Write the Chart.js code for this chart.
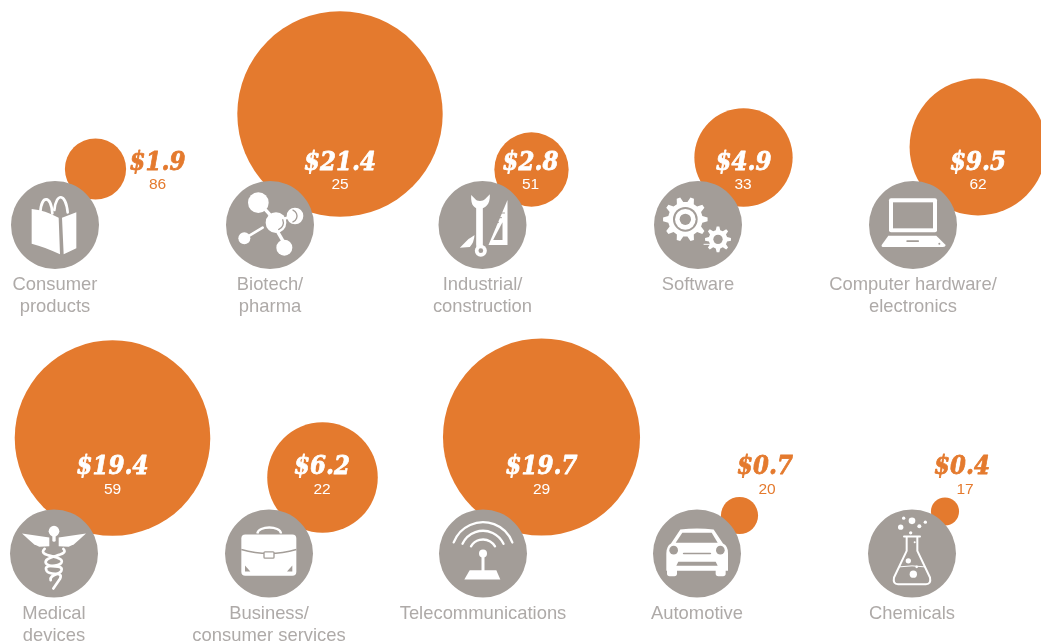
<!DOCTYPE html>
<html><head><meta charset="utf-8">
<style>html,body{margin:0;padding:0;background:#fff}#w{width:1041px;height:644px;position:relative}canvas{display:block}</style>
<script src="https://cdn.jsdelivr.net/npm/chart.js@4"></script>
</head><body><div id="w"><canvas id="c" width="1041" height="644"></canvas></div>
<script>
// ---- data ----
const categories = [["Consumer","products"],["Biotech/","pharma"],["Industrial/","construction"],["Software"],["Computer hardware/","electronics"],["Medical","devices"],["Business/","consumer services"],["Telecommunications"],["Automotive"],["Chemicals"]];
const amounts = [1.9,21.4,2.8,4.9,9.5,19.4,6.2,19.7,0.7,0.4];
const deals = [86,25,51,33,62,59,22,29,20,17];
// ---- layout, in axis units ----
const iconX = [55,270,482.5,698,913,54,269,483,697,912];
const iconY = [225,225,225,225,225,553.5,553.5,553.5,553.5,553.5];
const bubbleX = [95.5,340,531.5,743.5,978,112.5,322.5,541.5,739.5,945];
const bubbleY = [169,114,169.5,157.5,147,438,477.5,437,515.5,511.5];
const amountX = [157.5,340,530.5,743.5,978,112.5,322,541.5,765,962];
const countX  = [157.5,340,530.5,743,978,112.5,322,541.5,767,965];
const amountY = [163,163,163,163,163,467,467,467,467,467];
const countY  = [185,185,185,185,185,490,490,490,490,490];
const outside = [true,false,false,false,false,false,false,false,true,true];
const ORANGE='#e47a2e', GREY='#a39d98', WHITE='#ffffff', LABEL='#aeaaa8';
const RADIUS_PER_ROOT = 22.2, ICON_R = 44;

function roundRect(c,x,y,w,h,r){c.beginPath();c.roundRect(x,y,w,h,r);}
function poly(c,p,col){c.fillStyle=col||WHITE;c.beginPath();p.forEach((q,i)=>i?c.lineTo(q[0],q[1]):c.moveTo(q[0],q[1]));c.closePath();c.fill();}
function disc(c,x,y,r,col){c.fillStyle=col||WHITE;c.beginPath();c.arc(x,y,r,0,Math.PI*2);c.fill();}
function line(c,p,w,col){c.strokeStyle=col||WHITE;c.lineWidth=w;c.lineCap='round';c.lineJoin='round';c.beginPath();p.forEach((q,i)=>i?c.lineTo(q[0],q[1]):c.moveTo(q[0],q[1]));c.stroke();}
function gear(c,x,y,ro,ri,n,col){c.fillStyle=col||WHITE;c.beginPath();const s=Math.PI*2/n;for(let i=0;i<n;i++){const a=i*s-s*0.25;[[ri,a-s*0.06],[ro,a+s*0.12],[ro,a+s*0.38],[ri,a+s*0.56]].forEach(q=>c.lineTo(x+q[0]*Math.cos(q[1]),y+q[0]*Math.sin(q[1])));}c.closePath();c.fill();}

// icon outlines in 1/3 pixel units around the icon centre
const iconPainters = [
 function book(c){
  c.strokeStyle=WHITE;c.lineWidth=8;c.lineCap='round';
  c.beginPath();c.moveTo(-44,-40);c.bezierCurveTo(-40,-90,-12,-90,-8,-35);c.stroke();
  c.beginPath();c.moveTo(-2,-45);c.bezierCurveTo(4,-98,32,-96,38,-38);c.stroke();
  c.fillStyle=WHITE;c.beginPath();c.moveTo(-70,-48);c.quadraticCurveTo(-30,-44,11,-22);c.lineTo(15,88);c.quadraticCurveTo(-30,66,-70,56);c.closePath();c.fill();
  poly(c,[[21,-22],[64,-38],[64,70],[42,80],[26,88]]);
 },
 function molecule(c){
  line(c,[[-62,32],[-22,8]],8);line(c,[[24,22],[40,50]],10);line(c,[[-14,-46],[8,-22]],10);line(c,[[40,-18],[58,-24]],8);
  disc(c,-35,-67,31);disc(c,18,-7,31);disc(c,75,-27,25);disc(c,43,68,24);disc(c,-77,40,18);
  c.strokeStyle=GREY;c.lineWidth=4;c.beginPath();c.arc(18,-7,22,-0.4,1.2);c.stroke();
  c.beginPath();c.arc(62,-27,19,-1.2,1.2);c.stroke();
 },
 function tools(c){
  poly(c,[[75,-75],[75,60],[18,60]]);
  poly(c,[[60,-8],[60,45],[32,45]],GREY);
  [0,1,2,3].forEach(i=>line(c,[[66-i*9,-36+i*14],[50-i*9,-36+i*14]],3,GREY));
  line(c,[[-9,-55],[-9,70]],26,GREY);
  line(c,[[-9,-55],[-9,60]],20);
  c.fillStyle=WHITE;c.beginPath();c.moveTo(-34,-90);c.bezierCurveTo(-36,-55,-22,-50,-9,-48);c.bezierCurveTo(6,-50,24,-58,22,-92);c.lineTo(8,-78);c.bezierCurveTo(2,-70,-18,-70,-22,-78);c.closePath();c.fill();
  disc(c,-5,77,18);disc(c,-5,77,7,GREY);
  c.fillStyle=WHITE;c.beginPath();c.moveTo(-68,68);c.lineTo(-42,42);c.quadraticCurveTo(-25,32,-24,30);c.quadraticCurveTo(-25,52,-38,66);c.closePath();c.fill();
 },
 function gears(c){
  gear(c,-38,-17,67,52,10);disc(c,-38,-17,37,GREY);disc(c,-38,-17,31);disc(c,-38,-17,17,GREY);
  gear(c,60,43,39,28,8);disc(c,60,43,14,GREY);
  line(c,[[18,58],[36,58]],3);
 },
 function laptop(c){
  roundRect(c,-72,-80,144,102,6);c.fillStyle=WHITE;c.fill();
  c.fillStyle=GREY;c.fillRect(-60,-68,120,78);
  c.fillStyle=WHITE;c.beginPath();c.moveTo(-74,32);c.lineTo(70,32);c.lineTo(98,60);c.quadraticCurveTo(98,66,90,66);c.lineTo(-88,66);c.quadraticCurveTo(-96,66,-94,60);c.closePath();c.fill();
  roundRect(c,-20,46,38,5,2);c.fillStyle=GREY;c.fill();disc(c,79,56,3,GREY);
 },
 function caduceus(c){
  poly(c,[[-96,-60],[-14,-48],[-14,-22],[-44,-20],[-60,-28],[-72,-38]]);
  poly(c,[[96,-60],[14,-48],[14,-22],[44,-20],[60,-28],[72,-38]]);
  disc(c,0,-67,16);
  line(c,[[0,-60],[0,-40]],10);
  c.strokeStyle=WHITE;c.lineWidth=8;c.lineCap='round';c.beginPath();c.moveTo(-28,-14);c.bezierCurveTo(-55,10,36,6,22,28);c.bezierCurveTo(8,46,-34,28,-22,52);c.bezierCurveTo(-12,70,30,50,18,76);c.lineTo(-2,105);c.stroke();
  c.beginPath();c.moveTo(28,-14);c.bezierCurveTo(50,8,-36,6,-24,30);c.bezierCurveTo(-12,46,30,30,22,52);c.bezierCurveTo(14,66,-14,62,-10,80);c.stroke();
 },
 function briefcase(c){
  c.strokeStyle=WHITE;c.lineWidth=7;c.lineCap='butt';c.beginPath();c.moveTo(-35,-60);c.bezierCurveTo(-32,-84,34,-84,36,-60);c.stroke();
  roundRect(c,-83,-57,165,124,12);c.fillStyle=WHITE;c.fill();
  c.strokeStyle=GREY;c.lineWidth=4;c.beginPath();c.moveTo(-83,-12);c.quadraticCurveTo(0,12,82,-12);c.stroke();
  roundRect(c,-15,-5,30,19,3);c.fillStyle=WHITE;c.fill();c.stroke();
  poly(c,[[-72,36],[-56,54],[-72,54]],GREY);poly(c,[[70,36],[70,54],[54,54]],GREY);
 },
 function antenna(c){
  c.strokeStyle=WHITE;c.lineWidth=7;c.lineCap='round';
  [[94,-2.78,-0.36],[68,-2.7,-0.44],[42,-2.6,-0.54]].forEach(a=>{c.beginPath();c.arc(0,0,a[0],a[1],a[2]);c.stroke();});
  disc(c,0,0,12);line(c,[[0,5],[0,50]],9);
  poly(c,[[-40,50],[40,50],[52,78],[-56,78]]);
 },
 function car(c){
  c.fillStyle=WHITE;c.beginPath();c.moveTo(-50,-72);c.quadraticCurveTo(0,-78,50,-72);c.lineTo(78,-30);c.quadraticCurveTo(94,-22,93,0);c.lineTo(93,52);c.lineTo(-92,52);c.lineTo(-92,0);c.quadraticCurveTo(-92,-22,-78,-30);c.closePath();c.fill();
  roundRect(c,-90,40,30,28,8);c.fill();roundRect(c,56,40,30,28,8);c.fill();
  poly(c,[[-44,-62],[44,-62],[62,-32],[-64,-32]],GREY);
  disc(c,-70,-10,13,GREY);disc(c,70,-10,13,GREY);
  line(c,[[-40,0],[40,0]],5,GREY);
  poly(c,[[-56,25],[56,25],[62,37],[-62,37]],GREY);
 },
 function flask(c){
  [[0,-98,10],[-25,-106,5],[40,-94,5],[-34,-79,8],[22,-82,6],[-4,-62,5]].forEach(b=>disc(c,b[0],b[1],b[2]));
  c.strokeStyle=WHITE;c.lineWidth=6;c.lineJoin='round';c.lineCap='round';
  c.beginPath();c.moveTo(-24,-51);c.lineTo(24,-51);c.stroke();
  c.beginPath();c.moveTo(-16,-48);c.lineTo(-16,-8);c.lineTo(-54,72);c.quadraticCurveTo(-58,92,-42,92);c.lineTo(42,92);c.quadraticCurveTo(58,92,54,72);c.lineTo(16,-8);c.lineTo(16,-48);c.stroke();
  c.lineWidth=3;c.beginPath();c.moveTo(-38,40);c.quadraticCurveTo(0,34,38,40);c.stroke();
  disc(c,4,62,11);disc(c,-11,22,8);disc(c,8,-34,3);disc(c,14,40,4);
 }
];

const labelPlugin = {
 id:'labels',
 afterDatasetsDraw(chart){
  const c=chart.ctx, sx=chart.scales.x, sy=chart.scales.y;
  categories.forEach((lines,i)=>{
   const px=sx.getPixelForValue(iconX[i]), py=sy.getPixelForValue(iconY[i]);
   c.save();c.translate(px,py);c.scale(1/3,1/3);iconPainters[i](c);c.restore();
   c.save();c.textAlign='center';c.textBaseline='middle';
   c.fillStyle=LABEL;c.font='18.4px "Liberation Sans", Arial, sans-serif';
   lines.forEach((t,k)=>c.fillText(t,px,py+60+k*22));
   const tone=outside[i]?ORANGE:WHITE;
   c.fillStyle=tone;
   c.save();
   c.translate(sx.getPixelForValue(amountX[i]),sy.getPixelForValue(amountY[i]));
   c.scale(1,1.1);
   c.font='italic bold 23px "DejaVu Serif", serif';
   c.strokeStyle=tone;c.lineWidth=0.7;c.lineJoin='round';
   c.strokeText('$'+amounts[i].toFixed(1),0,0);
   c.fillText('$'+amounts[i].toFixed(1),0,0);
   c.restore();
   c.font='15.5px "Liberation Sans", Arial, sans-serif';
   c.fillText(String(deals[i]),sx.getPixelForValue(countX[i]),sy.getPixelForValue(countY[i]));
   c.restore();
  });
 }
};

new Chart(document.getElementById('c'),{
 type:'bubble',
 data:{datasets:[
  {label:'Icons',order:1,backgroundColor:GREY,borderWidth:0,data:categories.map((_,i)=>({x:iconX[i],y:iconY[i],r:ICON_R}))},
  {label:'Investment ($)',order:2,backgroundColor:ORANGE,borderWidth:0,data:amounts.map((v,i)=>({x:bubbleX[i],y:bubbleY[i],r:RADIUS_PER_ROOT*Math.sqrt(v)}))}
 ]},
 plugins:[labelPlugin],
 options:{
  responsive:false,animation:false,events:[],clip:false,
  layout:{padding:0,autoPadding:false},
  plugins:{legend:{display:false},tooltip:{enabled:false}},
  scales:{
   x:{type:'linear',display:false,min:0,max:1041},
   y:{type:'linear',display:false,min:0,max:644,reverse:true}
  }
 }
});
</script></body></html>
